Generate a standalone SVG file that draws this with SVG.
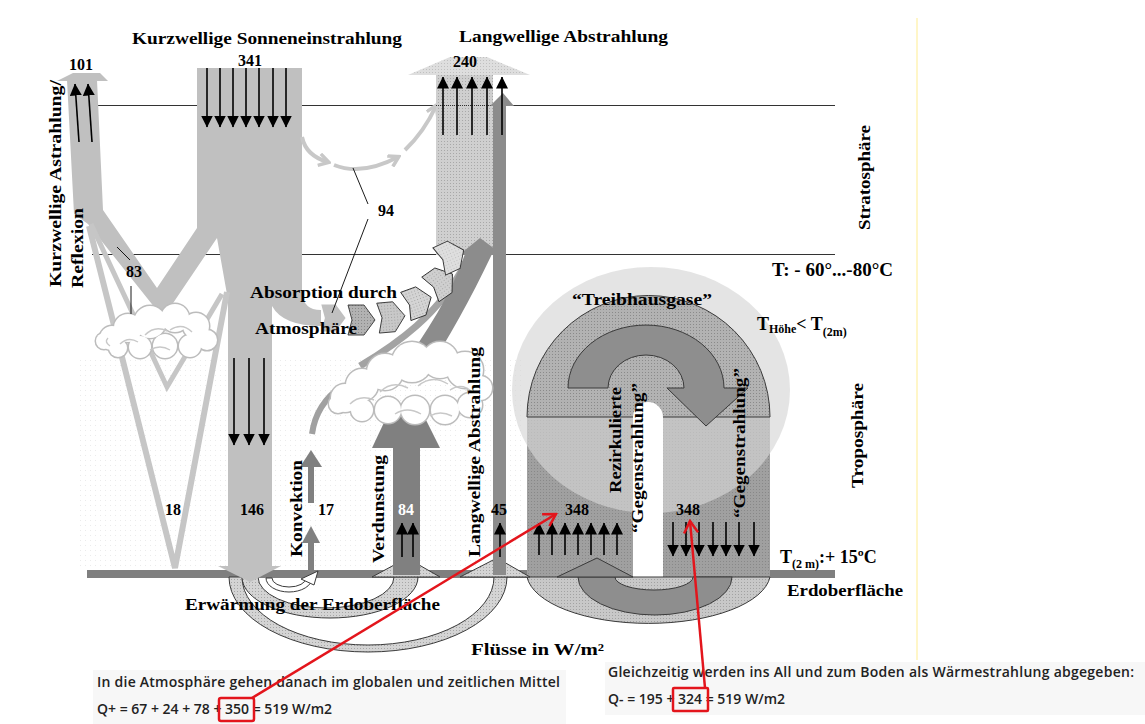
<svg xmlns="http://www.w3.org/2000/svg" width="1145" height="724" viewBox="0 0 1145 724">
<defs>
<style>
.lbl{font-family:"Liberation Serif","Times New Roman",serif;font-weight:bold;fill:#000}
.f15{font-size:16px}
.f16{font-size:16px}
.f18{font-size:18px}
.f12{font-size:12px}
.note{font-family:"Open Sans","Liberation Sans",sans-serif;font-weight:600;font-size:14px;fill:#222}
.blk{stroke:#000;stroke-width:1.6;fill:none;marker-end:url(#ah)}
.lead{stroke:#000;stroke-width:0.9;fill:none}
.red{stroke:#e3151c;stroke-width:2.5;fill:none}
.out{stroke:#3a3a3a;stroke-width:1}
.cs{fill:#fff;stroke:#bcbcbc;stroke-width:3}
.cf{fill:#fff;stroke:none}
.cd{fill:none;stroke:#c8c8c8;stroke-width:1.4}
.g94{fill:none;stroke:#c8c8c8;stroke-width:4;marker-end:url(#gah)}
.abs{stroke:#333;stroke-width:0.9}
</style>
<marker id="ah" markerUnits="userSpaceOnUse" markerWidth="12" markerHeight="12" viewBox="0 0 12 12" refX="11.5" refY="6" orient="auto"><path d="M0,0 L12,6 L0,12 Z" fill="#000"/></marker>
<marker id="rah" markerUnits="userSpaceOnUse" markerWidth="16" markerHeight="16" viewBox="0 0 16 16" refX="14" refY="8" orient="auto"><path d="M2,1 L14,8 L2,15" fill="none" stroke="#e3151c" stroke-width="2.5"/></marker>
<marker id="gah" markerUnits="userSpaceOnUse" markerWidth="14" markerHeight="14" viewBox="0 0 14 14" refX="11" refY="7" orient="auto"><path d="M2,1 L12,7 L2,13" fill="none" stroke="#c8c8c8" stroke-width="3.5"/></marker>
<pattern id="pCol" width="3" height="3" patternUnits="userSpaceOnUse"><rect width="3" height="3" fill="#cfcfcf"/><rect width="1" height="1" fill="#a8a8a8"/></pattern>
<pattern id="pHead" width="3" height="3" patternUnits="userSpaceOnUse"><rect width="3" height="3" fill="#dedede"/><rect width="1" height="1" fill="#c0c0c0"/></pattern>
<pattern id="pDome" width="3" height="3" patternUnits="userSpaceOnUse"><rect width="3" height="3" fill="#b2b2b2"/><rect width="1" height="1" fill="#8a8a8a"/></pattern>
<pattern id="pRect" width="3" height="3" patternUnits="userSpaceOnUse"><rect width="3" height="3" fill="#a0a0a0"/><rect width="1" height="1" fill="#888888"/></pattern>
<pattern id="pBowl" width="3" height="3" patternUnits="userSpaceOnUse"><rect width="3" height="3" fill="#c8c8c8"/><rect width="1" height="1" fill="#a2a2a2"/></pattern>
<pattern id="pArc" width="3" height="3" patternUnits="userSpaceOnUse"><rect width="3" height="3" fill="#d4d4d4"/><rect width="1" height="1" fill="#a6a6a6"/></pattern>
<pattern id="pDots" width="5" height="5" patternUnits="userSpaceOnUse"><rect width="1" height="1" fill="#ebebeb"/></pattern>
<polygon id="absShape" points="-13,-15 3,-15 14,0 3,15 -13,15 -9,0"/>
<g id="cloud1c">
<circle cx="104" cy="341" r="8"/><circle cx="112" cy="338" r="12"/><circle cx="128" cy="328" r="14"/><circle cx="150" cy="322" r="16"/><circle cx="175" cy="318" r="14"/><circle cx="196" cy="326" r="13"/><circle cx="207" cy="340" r="10"/><circle cx="190" cy="346" r="11"/><circle cx="165" cy="346" r="12"/><circle cx="140" cy="347" r="11"/><circle cx="118" cy="348" r="9"/>
</g>
<g id="cloud2c">
<circle cx="338" cy="404" r="9"/><circle cx="345" cy="398" r="14"/><circle cx="362" cy="385" r="16"/><circle cx="385" cy="372" r="18"/><circle cx="412" cy="362" r="20"/><circle cx="440" cy="360" r="18"/><circle cx="465" cy="370" r="18"/><circle cx="480" cy="388" r="12"/><circle cx="470" cy="405" r="12"/><circle cx="445" cy="410" r="14"/><circle cx="415" cy="410" r="14"/><circle cx="388" cy="410" r="13"/><circle cx="362" cy="410" r="11"/>
</g>
</defs>

<rect width="1145" height="724" fill="#fff"/>

<g id="background">
<rect x="80" y="360" width="445" height="210" fill="url(#pDots)"/>
<line x1="97" y1="105.5" x2="835" y2="105.5" stroke="#333" stroke-width="1"/>
<line x1="92" y1="254.5" x2="835" y2="254.5" stroke="#333" stroke-width="1"/>
<line x1="917" y1="18" x2="917" y2="660" stroke="#fff6c8" stroke-width="2"/>
<rect x="87" y="570" width="748" height="8" fill="#7f7f7f"/>
</g>

<g id="greenhouse">
<rect x="527" y="417" width="243" height="160" fill="url(#pRect)"/>
<ellipse cx="651" cy="390" rx="139" ry="123" fill="#d6d6d6" fill-opacity="0.65"/>
<path d="M527,417 A121.5,121.5 0 0 1 770,417 Z" fill="url(#pDome)" class="out"/>
<path d="M568,388 A78,63 0 0 1 724,388 L748,388 L706,426 L667,388 L684,388 A38,33 0 0 0 608,388 Z" fill="#8e8e8e" class="out"/>
<path d="M633,577 V417 A15,15 0 0 1 663,417 V577 Z" fill="#fff"/>
<path d="M527,577 A122,51 0 0 0 770,577 Z" fill="url(#pBowl)" class="out"/>
<path d="M578,577 A77,38 0 0 0 732,577 L693,577 A39,13 0 0 1 615,577 Z" fill="#8e8e8e" class="out"/>
<polygon points="557,577 597,558 633,577" fill="#8e8e8e" class="out"/>
</g>

<g id="ground-cycles">
<path d="M229,577 A139,75 0 0 0 507,577 L494,577 A126,68 0 0 1 242,577 Z" fill="url(#pArc)" class="out"/>
<path d="M242,577 A88,41 0 0 0 418,577 L394,577 A68,31 0 0 1 258,577 Z" fill="url(#pArc)" class="out"/>
<path d="M266,578 A23,14 0 0 0 312,578 L306,578 A17,9 0 0 1 272,578 Z" fill="#fff" class="out"/>
<polygon points="301,579 318,571 314,585" fill="#fff" class="out"/>
<polygon points="372,577 407,558 440,577" fill="url(#pArc)" class="out"/>
<polygon points="460,577 497,558 530,577" fill="url(#pArc)" class="out"/>
</g>

<g id="shortwave">
<path d="M67,80 L97,80 L103,210 L157,288 L197,228 L197,68 L302,68 L302,292 Q303,310 321,310 L321,326 Q283,326 272,306 L272,567 L228,567 L228,300 L217,238 L163,318 L88,224 L74,214 Z" fill="#c0c0c0"/>
<polygon points="57,81 73,73 100,73 108,81" fill="#c0c0c0"/>
<polygon points="218,566 281,566 250,582" fill="#c0c0c0"/>
<polyline points="89,226 175,568 227,292" fill="none" stroke="#c6c6c6" stroke-width="6"/>
<polyline points="91,224 167,387 222,294" fill="none" stroke="#c6c6c6" stroke-width="5"/>
<use href="#absShape" transform="translate(333,318) scale(0.9)" fill="#c0c0c0"/>
</g>

<g id="cloud-left">
<use href="#cloud1c" class="cs"/>
<use href="#cloud1c" class="cf"/>
<path class="cd" d="M120,344 q8,-8 18,-2 M145,335 q10,-10 22,-4 M170,330 q12,-8 22,2 M150,350 q10,-6 20,0 M110,346 q-6,-4 -2,-8"/>
</g>

<g id="arc94">
<path class="g94" d="M302,137 Q306,156 328,162"/>
<path class="g94" d="M334,165 Q362,176 398,157"/>
<path class="g94" d="M405,150 Q424,132 436,106"/>
</g>

<g id="longwave-out">
<rect x="436" y="75" width="57" height="180" fill="url(#pCol)"/>
<polygon points="408,75 450,57 487,57 530,75" fill="url(#pHead)"/>
<line x1="436" y1="105.5" x2="493" y2="105.5" stroke="#333" stroke-dasharray="1 1"/>
<rect x="493" y="104" width="13" height="471" fill="#8c8c8c"/>
<polygon points="490,106 503,93 514,106" fill="#8c8c8c"/>
</g>

<g id="latent-flow">
<path d="M360,366 C395,345 440,315 466,262" fill="none" stroke="#a3a3a3" stroke-width="7"/>
<path d="M425,374 C448,340 470,300 492,254 L465,254 C452,292 428,332 396,374 Z" fill="#8c8c8c"/>
<polygon points="459,255 480,238 503,255" fill="#8c8c8c"/>
<path d="M312,434 Q316,404 342,386" fill="none" stroke="#a0a0a0" stroke-width="6"/>
<polygon points="372,448 388,414 423,414 440,448" fill="#808080"/>
</g>

<g id="cloud-right">
<use href="#cloud2c" class="cs"/>
<use href="#cloud2c" class="cf"/>
<path class="cd" d="M350,404 q10,-10 24,-4 M380,392 q12,-12 28,-4 M418,386 q14,-12 30,-2 M450,390 q12,-8 22,2 M395,414 q12,-8 26,0 M430,416 q10,-6 22,0"/>
</g>

<g id="evaporation-convection">
<rect x="393" y="447" width="27" height="128" fill="#808080"/>
<rect x="308" y="543" width="6" height="29" fill="#808080"/>
<polygon points="302,543 311,526 320,543" fill="#808080"/>
<rect x="308" y="467" width="6" height="36" fill="#808080"/>
<polygon points="300,467 311,450 322,467" fill="#808080"/>
</g>

<g id="absorption">
<use href="#absShape" transform="translate(361,320)" fill="url(#pDome)" class="abs"/>
<use href="#absShape" transform="translate(391,317) rotate(-5)" fill="url(#pBowl)" class="abs"/>
<use href="#absShape" transform="translate(418,302) rotate(-20)" fill="url(#pArc)" class="abs"/>
<use href="#absShape" transform="translate(441,282) rotate(-35)" fill="url(#pCol)" class="abs"/>
<use href="#absShape" transform="translate(451,256) rotate(-25)" fill="url(#pHead)" class="abs"/>
</g>

<g id="black-arrows">
<line class="blk" x1="207" y1="68" x2="207" y2="127"/><line class="blk" x1="220" y1="68" x2="220" y2="127"/><line class="blk" x1="233" y1="68" x2="233" y2="127"/><line class="blk" x1="246" y1="68" x2="246" y2="127"/><line class="blk" x1="259" y1="68" x2="259" y2="127"/><line class="blk" x1="273" y1="68" x2="273" y2="127"/><line class="blk" x1="286" y1="68" x2="286" y2="127"/>
<line class="blk" x1="234" y1="358" x2="234" y2="445"/><line class="blk" x1="249" y1="358" x2="249" y2="445"/><line class="blk" x1="264" y1="358" x2="264" y2="445"/>
<line class="blk" x1="79" y1="142" x2="75" y2="84"/><line class="blk" x1="92" y1="142" x2="88" y2="84"/>
<line class="blk" x1="443" y1="135" x2="443" y2="77"/><line class="blk" x1="457" y1="135" x2="457" y2="77"/><line class="blk" x1="472" y1="135" x2="472" y2="77"/><line class="blk" x1="487" y1="135" x2="487" y2="77"/><line class="blk" x1="502" y1="135" x2="502" y2="77"/>
<line class="blk" x1="402" y1="557" x2="402" y2="523"/><line class="blk" x1="413" y1="557" x2="413" y2="523"/>
<line class="blk" x1="500" y1="557" x2="500" y2="523"/>
<line class="blk" x1="539" y1="555" x2="539" y2="523"/><line class="blk" x1="552" y1="555" x2="552" y2="523"/><line class="blk" x1="565" y1="555" x2="565" y2="523"/><line class="blk" x1="578" y1="555" x2="578" y2="523"/><line class="blk" x1="591" y1="555" x2="591" y2="523"/><line class="blk" x1="604" y1="555" x2="604" y2="523"/><line class="blk" x1="617" y1="555" x2="617" y2="523"/>
<line class="blk" x1="673" y1="522" x2="673" y2="556"/><line class="blk" x1="686" y1="522" x2="686" y2="556"/><line class="blk" x1="699" y1="522" x2="699" y2="556"/><line class="blk" x1="713" y1="522" x2="713" y2="556"/><line class="blk" x1="726" y1="522" x2="726" y2="556"/><line class="blk" x1="739" y1="522" x2="739" y2="556"/><line class="blk" x1="754" y1="522" x2="754" y2="556"/>
</g>

<g id="labels">
<text class="lbl f15" x="132" y="44" textLength="270" lengthAdjust="spacingAndGlyphs">Kurzwellige Sonneneinstrahlung</text>
<text class="lbl f15" x="459" y="42" textLength="209" lengthAdjust="spacingAndGlyphs">Langwellige Abstrahlung</text>
<text class="lbl f16" x="250" y="66" text-anchor="middle">341</text>
<text class="lbl f16" x="81" y="70" text-anchor="middle">101</text>
<text class="lbl f16" x="465" y="67" text-anchor="middle">240</text>
<text class="lbl f16" x="386" y="216" text-anchor="middle">94</text>
<text class="lbl f16" x="134" y="277" text-anchor="middle">83</text>
<text class="lbl f15" x="250" y="298" textLength="147" lengthAdjust="spacingAndGlyphs">Absorption durch</text>
<text class="lbl f15" x="255" y="334" textLength="102" lengthAdjust="spacingAndGlyphs">Atmosphäre</text>
<text class="lbl f15" transform="translate(870,230) rotate(-90)" textLength="105" lengthAdjust="spacingAndGlyphs">Stratosphäre</text>
<text class="lbl f18" x="772" y="276" textLength="121" lengthAdjust="spacingAndGlyphs">T: - 60°...-80°C</text>
<text class="lbl f15" x="572" y="305" textLength="140" lengthAdjust="spacingAndGlyphs">“Treibhausgase”</text>
<text class="lbl f18" x="757" y="330">T<tspan class="f12" dy="3">Höhe</tspan><tspan dy="-3">&lt; T</tspan><tspan class="f12" dy="6">(2m)</tspan></text>
<text class="lbl f15" transform="translate(863,488) rotate(-90)" textLength="105" lengthAdjust="spacingAndGlyphs">Troposphäre</text>
<text class="lbl f15" transform="translate(621,493) rotate(-90)" textLength="106" lengthAdjust="spacingAndGlyphs">Rezirkulierte</text>
<text class="lbl f15" transform="translate(643,533) rotate(-90)" textLength="150" lengthAdjust="spacingAndGlyphs">“Gegenstrahlung”</text>
<text class="lbl f15" transform="translate(745,518) rotate(-90)" textLength="150" lengthAdjust="spacingAndGlyphs">“Gegenstrahlung”</text>
<text class="lbl f16" x="577" y="515" text-anchor="middle">348</text>
<text class="lbl f16" x="688" y="515" text-anchor="middle">348</text>
<text class="lbl f18" x="780" y="563">T<tspan class="f12" dy="5">(2 m)</tspan><tspan dy="-5">:+ 15ºC</tspan></text>
<text class="lbl f15" x="787" y="596" textLength="116" lengthAdjust="spacingAndGlyphs">Erdoberfläche</text>
<text class="lbl f15" x="471" y="655" textLength="133" lengthAdjust="spacingAndGlyphs">Flüsse in W/m²</text>
<text class="lbl f15" x="185" y="610" textLength="255" lengthAdjust="spacingAndGlyphs">Erwärmung der Erdoberfläche</text>
<text class="lbl f16" x="173" y="515" text-anchor="middle">18</text>
<text class="lbl f16" x="252" y="515" text-anchor="middle">146</text>
<text class="lbl f16" x="326" y="515" text-anchor="middle">17</text>
<text class="lbl f16" x="406" y="515" text-anchor="middle" style="fill:#fff">84</text>
<text class="lbl f16" x="499" y="515" text-anchor="middle">45</text>
<text class="lbl f15" transform="translate(302,557) rotate(-90)" textLength="97" lengthAdjust="spacingAndGlyphs">Konvektion</text>
<text class="lbl f15" transform="translate(384,563) rotate(-90)" textLength="108" lengthAdjust="spacingAndGlyphs">Verdunstung</text>
<text class="lbl f15" transform="translate(480,557) rotate(-90)" textLength="210" lengthAdjust="spacingAndGlyphs">Langwellige Abstrahlung</text>
<text class="lbl f15" transform="translate(61,287) rotate(-90)" textLength="207" lengthAdjust="spacingAndGlyphs">Kurzwellige Astrahlung/</text>
<text class="lbl f15" transform="translate(83,288) rotate(-90)" textLength="80" lengthAdjust="spacingAndGlyphs">Reflexion</text>
</g>

<g id="notes">
<rect x="93" y="670" width="473" height="54" fill="#f7f7f7"/>
<text class="note" x="97" y="687" textLength="463" lengthAdjust="spacing">In die Atmosphäre gehen danach im globalen und zeitlichen Mittel</text>
<text class="note" x="97" y="714" textLength="235" lengthAdjust="spacing">Q+ = 67 + 24 + 78 + 350 = 519 W/m2</text>
<rect x="605" y="662" width="540" height="53" fill="#f7f7f7"/>
<text class="note" x="608" y="677" textLength="526" lengthAdjust="spacing">Gleichzeitig werden ins All und zum Boden als Wärmestrahlung abgegeben:</text>
<text class="note" x="608" y="704" textLength="177" lengthAdjust="spacing">Q- = 195 + 324 = 519 W/m2</text>
</g>

<g id="connectors">
<line class="lead" x1="353" y1="168" x2="368" y2="204"/>
<line class="lead" x1="368" y1="219" x2="332" y2="313"/>
<line class="lead" x1="117" y1="247" x2="130" y2="260"/>
<line class="lead" x1="131" y1="286" x2="131" y2="314"/>
<rect class="red" x="219" y="698" width="35" height="23" rx="2"/>
<rect class="red" x="673" y="688" width="35" height="23" rx="1"/>
<line class="red" x1="252" y1="698" x2="556" y2="514" marker-end="url(#rah)"/>
<line class="red" x1="705" y1="688" x2="690" y2="521" marker-end="url(#rah)"/>
</g>
</svg>
